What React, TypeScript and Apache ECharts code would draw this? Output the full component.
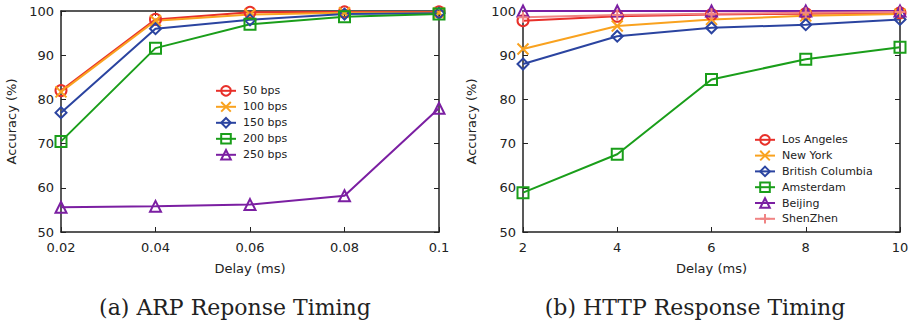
import React, { useEffect, useRef } from "react";
import * as echarts from "echarts";

const delaysA = [0.02, 0.04, 0.06, 0.08, 0.1];
const namesA = ["50 bps", "100 bps", "150 bps", "200 bps", "250 bps"];
const bps50 = [82, 98.1, 99.7, 99.8, 99.8];
const bps100 = [81.7, 97.8, 99.2, 99.6, 99.6];
const bps150 = [77, 96, 98, 99.3, 99.5];
const bps200 = [70.5, 91.6, 97, 98.7, 99.3];
const bps250 = [55.6, 55.8, 56.2, 58.2, 78];

const delaysB = [2, 4, 6, 8, 10];
const namesB = ["Los Angeles", "New York", "British Columbia", "Amsterdam", "Beijing", "ShenZhen"];
const losAngeles = [97.8, 98.8, 99.2, 99.4, 99.6];
const newYork = [91.4, 96.6, 98.1, 98.9, 99.3];
const britishColumbia = [88, 94.3, 96.2, 96.9, 98.1];
const amsterdam = [58.9, 67.6, 84.5, 89.1, 91.8];
const beijing = [100, 100, 100, 100, 100];
const shenZhen = [98.6, 99.1, 99.4, 99.6, 99.8];

const yTicks = [50, 60, 70, 80, 90, 100];

const RED = "#e8302a";
const ORANGE = "#f9a21f";
const BLUE = "#2b44a0";
const GREEN = "#1a9e1a";
const PURPLE = "#7b1fa2";
const PINK = "#f08484";

const X_PATH = "path://M0,0L10,10M10,0L0,10";
const PLUS_PATH = "path://M5,0L5,10M0,5L10,5";

const FONT = "DejaVu Sans";
const TXT = "#222";

function mk(name: string, xs: number[], ys: number[], color: string, symbol: string, gi: number) {
  return {
    type: "line",
    name,
    xAxisIndex: gi * 2,
    yAxisIndex: gi * 2,
    data: xs.map((x, i) => [x, ys[i]]),
    symbol,
    symbolSize: 11,
    showSymbol: true,
    lineStyle: { color, width: 2 },
    itemStyle: { color: "transparent", borderColor: color, borderWidth: 2 },
    emphasis: { disabled: true },
    z: 3,
  };
}

function axesFor(gi: number, min: number, max: number, interval: number, fmt: (v: number) => string, nameGapY: number) {
  const xs = [
    {
      type: "value",
      gridIndex: gi,
      min,
      max,
      interval,
      position: "bottom",
      name: "Delay (ms)",
      nameLocation: "middle",
      nameGap: 30,
      nameTextStyle: { fontFamily: FONT, fontSize: 13, color: TXT },
      axisLine: { show: true, lineStyle: { color: TXT, width: 1.5 } },
      axisTick: { show: true, inside: true, length: 5, lineStyle: { color: TXT } },
      axisLabel: { fontFamily: FONT, fontSize: 13, color: TXT, margin: 9, formatter: fmt },
      splitLine: { show: false },
    },
    {
      type: "value",
      gridIndex: gi,
      min,
      max,
      interval,
      position: "top",
      axisLine: { show: true, lineStyle: { color: TXT, width: 1.5 } },
      axisTick: { show: true, inside: true, length: 5, lineStyle: { color: TXT } },
      axisLabel: { show: false },
      splitLine: { show: false },
    },
  ];
  const ys = [
    {
      type: "value",
      gridIndex: gi,
      min: yTicks[0],
      max: yTicks[yTicks.length - 1],
      interval: 10,
      position: "left",
      name: "Accuracy (%)",
      nameLocation: "middle",
      nameGap: nameGapY,
      nameTextStyle: { fontFamily: FONT, fontSize: 13, color: TXT },
      axisLine: { show: true, lineStyle: { color: TXT, width: 1.5 } },
      axisTick: { show: true, inside: true, length: 5, lineStyle: { color: TXT } },
      axisLabel: { fontFamily: FONT, fontSize: 13, color: TXT, margin: 7 },
      splitLine: { show: false },
    },
    {
      type: "value",
      gridIndex: gi,
      min: yTicks[0],
      max: yTicks[yTicks.length - 1],
      interval: 10,
      position: "right",
      axisLine: { show: true, lineStyle: { color: TXT, width: 1.5 } },
      axisTick: { show: true, inside: true, length: 5, lineStyle: { color: TXT } },
      axisLabel: { show: false },
      splitLine: { show: false },
    },
  ];
  return { xs, ys };
}

export default function App() {
  const ref = useRef<HTMLDivElement>(null);
  useEffect(() => {
    if (!ref.current) return;
    const chart = echarts.init(ref.current, null, { renderer: "svg" });
    const fmtA = (v: number) => String(parseFloat(v.toFixed(2)));
    const fmtB = (v: number) => String(v);
    const a = axesFor(0, 0.02, 0.1, 0.02, fmtA, 43);
    const b = axesFor(1, 2, 10, 2, fmtB, 45);
    const legendCommon = {
      orient: "vertical",
      itemWidth: 20,
      itemHeight: 12,
      itemGap: 4.2,
      textStyle: { fontFamily: FONT, fontSize: 11, color: TXT, padding: [0, 0, 0, 2] },
      padding: 0,
      selectedMode: false,
    };
    chart.setOption({
      animation: false,
      backgroundColor: "#fff",
      grid: [
        { left: 61, top: 11, width: 378, height: 221 },
        { left: 523, top: 11, width: 377, height: 221 },
      ],
      xAxis: [...a.xs, ...b.xs],
      yAxis: [...a.ys, ...b.ys],
      legend: [
        { ...legendCommon, left: 215, top: 85, itemGap: 4.4, data: namesA },
        { ...legendCommon, left: 754, top: 134, data: namesB },
      ],
      series: [
        mk(namesA[0], delaysA, bps50, RED, "circle", 0),
        mk(namesA[1], delaysA, bps100, ORANGE, X_PATH, 0),
        mk(namesA[2], delaysA, bps150, BLUE, "diamond", 0),
        mk(namesA[3], delaysA, bps200, GREEN, "rect", 0),
        mk(namesA[4], delaysA, bps250, PURPLE, "triangle", 0),
        mk(namesB[0], delaysB, losAngeles, RED, "circle", 1),
        mk(namesB[1], delaysB, newYork, ORANGE, X_PATH, 1),
        mk(namesB[2], delaysB, britishColumbia, BLUE, "diamond", 1),
        mk(namesB[3], delaysB, amsterdam, GREEN, "rect", 1),
        mk(namesB[4], delaysB, beijing, PURPLE, "triangle", 1),
        mk(namesB[5], delaysB, shenZhen, PINK, PLUS_PATH, 1),
      ],
      graphic: [
        {
          type: "text",
          x: 235,
          y: 307,
          style: {
            text: "(a) ARP Reponse Timing",
            font: "22px 'DejaVu Serif'",
            fill: "#222",
            align: "center",
            verticalAlign: "middle",
          },
        },
        {
          type: "text",
          x: 695,
          y: 307,
          style: {
            text: "(b) HTTP Response Timing",
            font: "22px 'DejaVu Serif'",
            fill: "#222",
            align: "center",
            verticalAlign: "middle",
          },
        },
      ],
    });
    return () => chart.dispose();
  }, []);
  return (
    <div
      ref={ref}
      style={{ position: "fixed", left: 0, top: 0, width: 917, height: 326, background: "#fff" }}
    />
  );
}
